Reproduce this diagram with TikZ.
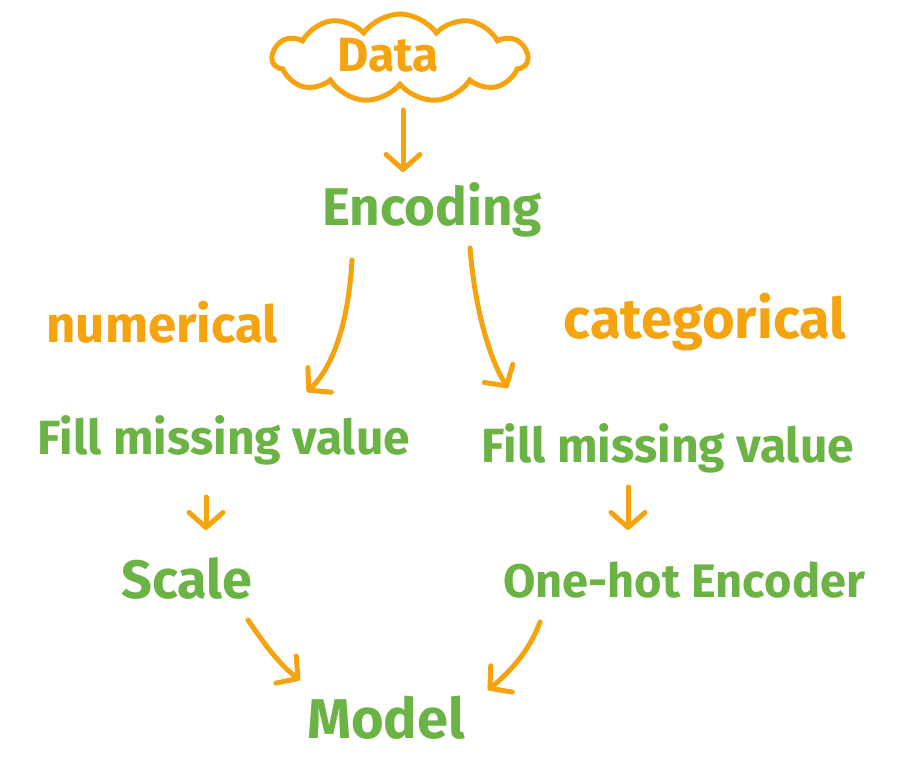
\documentclass[tikz,border=0pt]{standalone}
\usepackage{fontspec}
\setmainfont{Fira Sans}
\usetikzlibrary{arrows.meta,shapes.symbols}
\definecolor{org}{HTML}{F5A30F}
\definecolor{grn}{HTML}{6AB344}
\newcommand{\fsz}[1]{\fontsize{#1}{#1}\selectfont\bfseries}
\begin{document}
\begin{tikzpicture}[x=1pt,y=-1pt,
  glabel/.style={text=grn, inner sep=0pt},
  olabel/.style={text=org, inner sep=0pt},
  arr/.style={draw=org, line width=5pt, line cap=round,
    -{Straight Barb[length=15pt,width=34pt,line cap=round,line join=round]}}]
\useasboundingbox[fill=white] (0,0) rectangle (898,768);
\node[cloud, draw=org, line width=5pt, cloud puffs=11, cloud puff arc=110, aspect=2.8,
      minimum width=255pt, minimum height=88pt] (cloud) at (400,58) {};
\node[olabel, font=\fsz{48}] (data) at (388,55) {Data};
\node[glabel, font=\fsz{53}] (enc) at (432,210) {Encoding};
\node[olabel, font=\fsz{51}] (num) at (162,322) {numerical};
\node[olabel, font=\fsz{56}] (cat) at (705,322) {categorical};
\node[glabel, font=\fsz{48}] (fill1) at (224,440) {Fill missing value};
\node[glabel, font=\fsz{48}] (fill2) at (668,448) {Fill missing value};
\node[glabel, font=\fsz{54}] (scale) at (187,578) {Scale};
\node[glabel, font=\fsz{47}] (ohe) at (684,580) {One-hot Encoder};
\node[glabel, font=\fsz{56}] (model) at (386,718) {Model};
% connector end points
\coordinate (c1) at (403,110);
\coordinate (e1) at (403,172);
\coordinate (el) at (352,260);
\coordinate (f1t) at (307,392);
\coordinate (er) at (470,248);
\coordinate (f2t) at (508,388);
\coordinate (f1b) at (206,497);
\coordinate (s1t) at (206,530);
\coordinate (f2b) at (628,487);
\coordinate (o1t) at (628,530);
\coordinate (sb) at (248,620);
\coordinate (mt1) at (300,680);
\coordinate (ob) at (540,622);
\coordinate (mt2) at (488,690);
\draw[arr] (c1) -- (e1);
\draw[arr] (el) .. controls (348,330) and (330,370) .. (f1t);
\draw[arr] (er) .. controls (475,310) and (490,360) .. (f2t);
\draw[arr] (f1b) -- (s1t);
\draw[arr] (f2b) -- (o1t);
\draw[arr] (sb) .. controls (265,645) and (280,665) .. (mt1);
\draw[arr] (ob) .. controls (530,650) and (510,672) .. (mt2);
\end{tikzpicture}
\end{document}
